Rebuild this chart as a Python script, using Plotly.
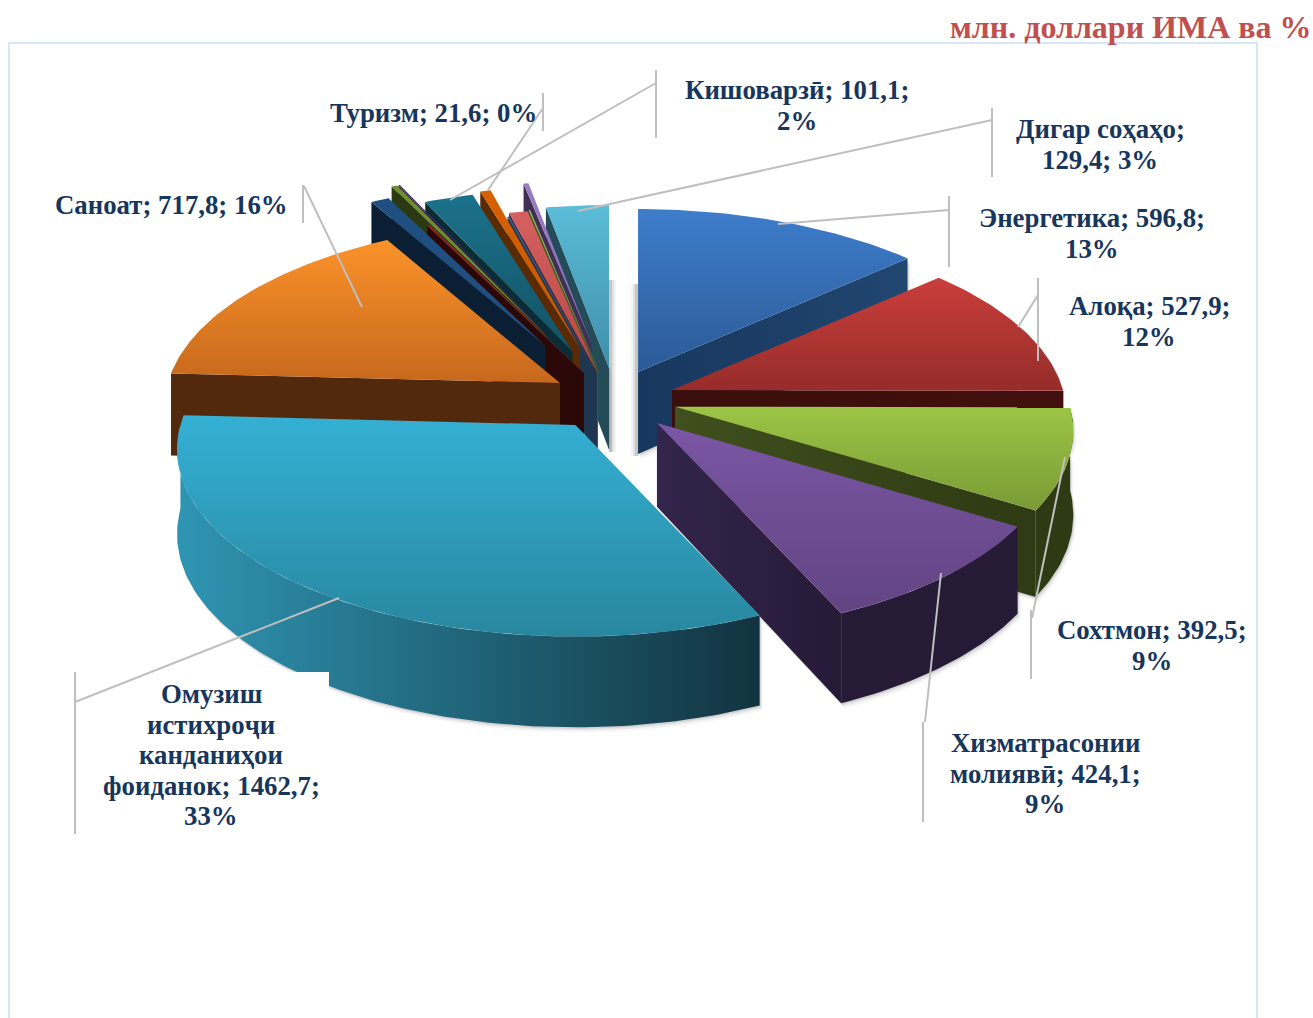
import math
import plotly.graph_objects as go

# ---- data ----
categories = ["Энергетика", "Алоқа", "Сохтмон", "Хизматрасонии молиявӣ",
              "Омузиш истихроҷи канданиҳои фоиданок", "Саноат",
              "Нақлиёт", "Савдо", "Алоқаи дигар", "Суғурта",
              "Кишоварзӣ", "Туризм", "Меҳмонхона", "Тандурустӣ", "Маориф", "Фарҳанг",
              "Дигар соҳаҳо"]
values = [596.8, 527.9, 392.5, 424.1, 1462.7, 717.8,
          38, 6, 12, 3, 101.1, 21.6, 4, 38, 3, 10, 129.4]
label_text = {
    "Энергетика": (1092, 218, ["Энергетика; 596,8;", "13%"]),
    "Алоқа": (1149, 306, ["Алоқа; 527,9;", "12%"]),
    "Сохтмон": (1152, 630, ["Сохтмон; 392,5;", "9%"]),
    "Хизматрасонии молиявӣ": (1045, 743, ["Хизматрасонии", "молиявӣ; 424,1;", "9%"]),
    "Омузиш истихроҷи канданиҳои фоиданок": (211, 694, ["Омузиш", "истихроҷи", "канданиҳои", "фоиданок; 1462,7;", "33%"]),
    "Саноат": (171, 205, ["Саноат; 717,8; 16%"]),
    "Кишоварзӣ": (797, 90, ["Кишоварзӣ; 101,1;", "2%"]),
    "Туризм": (433, 113, ["Туризм; 21,6; 0%"]),
    "Дигар соҳаҳо": (1100, 129, ["Дигар соҳаҳо;", "129,4; 3%"]),
}

# ---- styles: explosion, radius scale, top gradient (far, near), wall gradient (left, right) ----
pull_x = [.175, .168, .171, .18, .155, .149,
          .35, .15, .38, .38, .27, .28, .13, .15, .155, .25, .028]
pull_y = [.155, .12, .171, .18, .178, .154,
          .32, .15, .38, .38, .27, .28, .13, .15, .155, .30, .164]
rad = [1, .99, 1, 1, 1, .993, 1, 1, 1, 1, 1, 1, 1, 1, 1, 1, 1]
top_cols = [("#3e7dcb", "#2b5a96"), ("#c93e3b", "#962c2a"), ("#9cc546", "#7a9a35"), ("#7b56a5", "#624482"),
            ("#34b0d4", "#28879f"), ("#fb922a", "#c6681d"),
            ("#1f4e80", "#1f4e80"), ("#8f2422", "#8f2422"), ("#6f8f2f", "#6f8f2f"), ("#45305f", "#45305f"),
            ("#1b728b", "#125266"), ("#d86000", "#c45700"), ("#3a5a80", "#3a5a80"), ("#d66060", "#b54846"),
            ("#9bbb59", "#9bbb59"), ("#9a7cc2", "#8a6db0"), ("#5bbdd9", "#3f8ea8")]
wall_cols = [("#17375e", "#21466f"), ("#3a0e0c", "#420f0e"), ("#3f4f1d", "#2e3a13"), ("#33254b", "#261a37"),
             ("#2f95b3", "#12333f"), ("#52290d", "#52290d"),
             ("#0a1f33", "#0a1f33"), ("#2a0807", "#2a0807"), ("#2c3812", "#2c3812"), ("#2a1d3c", "#2a1d3c"),
             ("#0a2c36", "#0a2c36"), ("#5a2a05", "#5a2a05"), ("#1f3650", "#1f3650"), ("#3b2a40", "#3b2a40"),
             ("#4a5a25", "#4a5a25"), ("#3f2f55", "#3f2f55"), ("#234c58", "#234c58")]
draw_order = [0, 1, 2, 3, 16, 15, 14, 13, 12, 11, 10, 9, 8, 7, 6, 5, 4]
shadowed = {0, 2, 3, 4, 16}

CX, CY = 610, 398     # pie centre on the page
AX, AY, PERSP = 395, 184, 0.13   # pie radii and perspective


def proj(theta, r):
    u, v = math.sin(theta), math.cos(theta)
    w = 1 + PERSP * v
    return r * AX * u / w, -r * AY * v / w


def depth(y):
    return 82 + (y - 372) * 8 / 240


total = sum(values)
fig = go.Figure()


def poly(pts, cols, kind):
    xs = [p[0] for p in pts] + [pts[0][0]]
    ys = [p[1] for p in pts] + [pts[0][1]]
    # plotly's vertical gradient runs bottom to top: first colour is given for the far (top) end
    cs = [[0, cols[1]], [1, cols[0]]] if kind == "vertical" else [[0, cols[0]], [1, cols[1]]]
    fig.add_trace(go.Scatter(
        x=xs, y=ys, mode="lines", line=dict(width=0), fill="toself", hoverinfo="skip",
        showlegend=False, fillgradient=dict(type=kind, colorscale=cs)))


def soft(pts, alpha):
    xs = [p[0] for p in pts] + [pts[0][0]]
    ys = [p[1] for p in pts] + [pts[0][1]]
    fig.add_trace(go.Scatter(
        x=xs, y=ys, mode="lines", line=dict(width=0), fill="toself", hoverinfo="skip",
        showlegend=False, fillcolor=f"rgba(60,60,60,{alpha})"))


def extrude(pts):
    return pts + [(x, y + depth(y)) for x, y in reversed(pts)]


angles = []
acc = 0
for v in values:
    angles.append((acc / total * 2 * math.pi, (acc + v) / total * 2 * math.pi))
    acc += v

for i in draw_order:
    a0, a1 = angles[i]
    mid = (a0 + a1) / 2
    r = rad[i]
    ax = CX + AX * math.sin(mid) * pull_x[i]
    ay = CY - AY * math.cos(mid) * pull_y[i]
    apex = (ax, ay)
    n = max(4, int((a1 - a0) * 60))
    rim_pts = []
    for k in range(n + 1):
        t = a0 + (a1 - a0) * k / n
        dx, dy = proj(t, r)
        rim_pts.append((ax + dx, ay + dy))
    faces = []
    if a0 > math.pi:
        faces.append((extrude([apex, rim_pts[0]]), wall_cols[i]))
    if a1 < math.pi:
        faces.append((extrude([apex, rim_pts[-1]]), wall_cols[i]))
    lo, hi = max(a0, math.pi / 2), min(a1, 3 * math.pi / 2)
    if hi > lo:
        m = max(4, int((hi - lo) * 60))
        arc = []
        for k in range(m + 1):
            t = lo + (hi - lo) * k / m
            dx, dy = proj(t, r)
            arc.append((ax + dx, ay + dy))
        cols = wall_cols[i] if i == 4 else (wall_cols[i][1], wall_cols[i][1])
        faces.append((extrude(arc), cols))
    # soft drop shadow under the lower edge of the larger slices
    if i in shadowed:
        for off, al in ((5, .05), (3, .08), (1.5, .12)):
            for pts, _ in faces:
                soft([(x + off * .6, y + off) for x, y in pts], al)
    if i in (0, 16):  # the blurred vertical shadow beside the central gap
        sx = -1 if i == 0 else 1
        for w_, al in ((7, .06), (5, .1), (3, .16)):
            soft([(ax, ay - 88), (ax + sx * w_, ay - 88), (ax + sx * w_, ay + 84), (ax, ay + 84)], al)
    for pts, cols in faces:
        poly(pts, cols, "horizontal")
    poly([apex] + rim_pts, top_cols[i], "vertical")

line_col = "#bfbfbf"
segments = [
    [(778, 224), (949, 210)], [(949, 196), (949, 267)],
    [(1018, 327), (1038, 295)], [(1038, 278), (1038, 361)],
    [(1065, 457), (1032, 618)], [(1031, 610), (1031, 679)],
    [(941, 573), (925, 722)], [(923, 722), (923, 822)],
    [(339, 598), (75, 702)], [(75, 672), (75, 834)],
    [(362, 307), (304, 186)], [(303, 185), (303, 223)],
    [(488, 190), (543, 108)], [(543, 93), (543, 131)],
    [(450, 200), (656, 83)], [(656, 70), (656, 138)],
    [(578, 211), (992, 120)], [(992, 108), (992, 177)],
]
shapes = [dict(type="rect", x0=9, y0=43, x1=1257, y1=1040, line=dict(color="#d6e6f5", width=2), layer="below"),
          dict(type="rect", x0=76, y0=672, x1=329, y1=840, fillcolor="white", line=dict(width=0), layer="above")]
for (x0, y0), (x1, y1) in segments:
    shapes.append(dict(type="line", x0=x0, y0=y0, x1=x1, y1=y1, line=dict(color=line_col, width=2), layer="above"))

annotations = [dict(x=1131, y=27, text="<b>млн. доллари ИМА ва %</b>", showarrow=False,
                    font=dict(family="Liberation Serif", size=32, color="#c0504d"),
                    xanchor="center", yanchor="middle")]
for name in categories:
    if name in label_text:
        x, y, lines = label_text[name]
        for k, t in enumerate(lines):
            annotations.append(dict(x=x, y=y + k * 30.5, text=f"<b>{t}</b>", showarrow=False,
                                    font=dict(family="Liberation Serif", size=26.8, color="#17365d"),
                                    xanchor="center", yanchor="middle"))

fig.update_layout(width=1313, height=1018, margin=dict(l=0, r=0, t=0, b=0),
                  paper_bgcolor="white", plot_bgcolor="white", showlegend=False,
                  xaxis=dict(range=[0, 1313], visible=False, fixedrange=True),
                  yaxis=dict(range=[1018, 0], visible=False, fixedrange=True),
                  shapes=shapes, annotations=annotations)
fig.write_html("out.html", config={"displayModeBar": False},
               post_script="document.body.style.margin='0';document.body.style.overflow='hidden';")
